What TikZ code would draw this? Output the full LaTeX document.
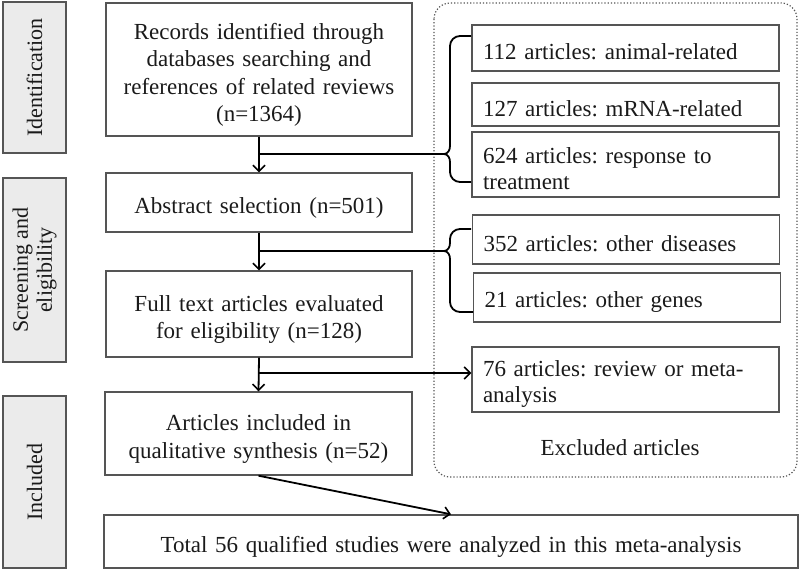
\documentclass[tikz,border=0pt]{standalone}
\usepackage{fontspec}
\setmainfont{Liberation Serif}
\usetikzlibrary{arrows.meta}
\definecolor{boxline}{HTML}{555555}
\definecolor{labfill}{HTML}{EBEBEB}
\definecolor{txt}{HTML}{1A1A1A}
\frenchspacing
\newcommand\lowerby[1]{\rule{0pt}{#1}}
\begin{document}
\begin{tikzpicture}[x=1pt,y=-1pt,
  every node/.style={font=\fontsize{23}{27.5}\selectfont, text=txt},
  mainbox/.style={draw=boxline, line width=1.4pt, align=center, text width=296pt, inner sep=4pt,
    execute at begin node={\lowerby{27pt}}},
  exbox/.style={draw=boxline, line width=1.4pt, align=left, text width=285pt, inner xsep=11pt, inner ysep=2pt, font=\fontsize{23}{26}\selectfont,
    execute at begin node={\lowerby{24pt}}},
  exone/.style={exbox, execute at begin node={\lowerby{19pt}}},
  labbox/.style={draw=boxline, fill=labfill, line width=1.4pt, rotate=90, align=center, inner sep=2pt, font=\fontsize{22}{24}\selectfont},
  conn/.style={line width=1.8pt, black},
  arr/.style={conn, -{Straight Barb[length=6pt,width=12pt,line width=1.6pt]}},
  bracelin/.style={line width=1.8pt, black}
]
\useasboundingbox (0,0) rectangle (800,571);

% stage labels
\node[labbox, minimum width=151pt, minimum height=63pt] (lab1) at (34.5,77.5) {Identification};
\node[labbox, minimum width=184pt, minimum height=63pt] (lab2) at (34.5,270) {Screening and\\eligibility};
\node[labbox, minimum width=172pt, minimum height=63pt] (lab3) at (34.5,482) {Included};

% excluded container
\draw[boxline, line width=1.2pt, dotted, rounded corners=16pt] (434,3) rectangle (797,477);
\node (exlab) at (620,448) {Excluded articles};

% main boxes
\node[mainbox, minimum width=306pt, minimum height=133pt] (rec) at (259,69.5)
  {Records identified through\\databases searching and\\references of related reviews\\(n=1364)};
\node[mainbox, minimum width=306pt, minimum height=59pt] (abs) at (259,202.5)
  {Abstract selection (n=501)};
\node[mainbox, minimum width=306pt, minimum height=86pt] (full) at (259,314)
  {Full text articles evaluated\\for eligibility (n=128)};
\node[mainbox, minimum width=307pt, minimum height=83pt] (incl) at (258.5,433.5)
  {Articles included in\\qualitative synthesis (n=52)};
\node[mainbox, text width=686pt, minimum width=694pt, minimum height=53pt] (total) at (451,541.5)
  {Total 56 qualified studies were analyzed in this meta-analysis};

% exclusion boxes
\node[exone, minimum width=307pt, minimum height=46pt] (e1) at (625.5,48) {112 articles: animal-related};
\node[exone, minimum width=307pt, minimum height=43pt] (e2) at (625.5,104.5) {127 articles: mRNA-related};
\node[exbox, minimum width=307pt, minimum height=65pt] (e3) at (625.5,164.5) {624 articles: response to\\treatment};
\node[exone, minimum width=307pt, minimum height=49pt] (e4) at (626,239.5) {352 articles: other diseases};
\node[exone, minimum width=307pt, minimum height=49pt] (e5) at (627,297.5) {21 articles: other genes};
\node[exbox, minimum width=307pt, minimum height=65pt] (e6) at (625.5,379.5) {76 articles: review or meta-\\analysis};

% junction coordinates
\coordinate (j1) at (258.5,154);
\coordinate (t1) at (444,154);
\coordinate (j2) at (258.5,251);
\coordinate (t2) at (444,251);
\coordinate (j3) at (258.5,373);

% vertical flow arrows
\draw[arr] (rec.south) -- (abs.north);
\draw[arr] (abs.south) -- (full.north);
\draw[arr] (full.south) -- (incl.north);
\draw[arr] (incl.south) -- (total.north);

% side branches
\draw[conn] (j1) -- (t1);
\draw[conn] (j2) -- (t2);
\draw[arr] (j3) -- (e6.west |- j3);

% braces
\draw[bracelin] (471,36) -- (460,36) to[out=180,in=90] (450,46) -- (450,146)
  to[out=-90,in=0] (t1) to[out=0,in=90] (450,162) -- (450,172)
  to[out=-90,in=180] (460,182) -- (471,182);
\draw[bracelin] (471,229) -- (460,229) to[out=180,in=90] (450,239) -- (450,243)
  to[out=-90,in=0] (t2) to[out=0,in=90] (450,259) -- (450,302)
  to[out=-90,in=180] (460,312) -- (473,312);
\end{tikzpicture}
\end{document}
